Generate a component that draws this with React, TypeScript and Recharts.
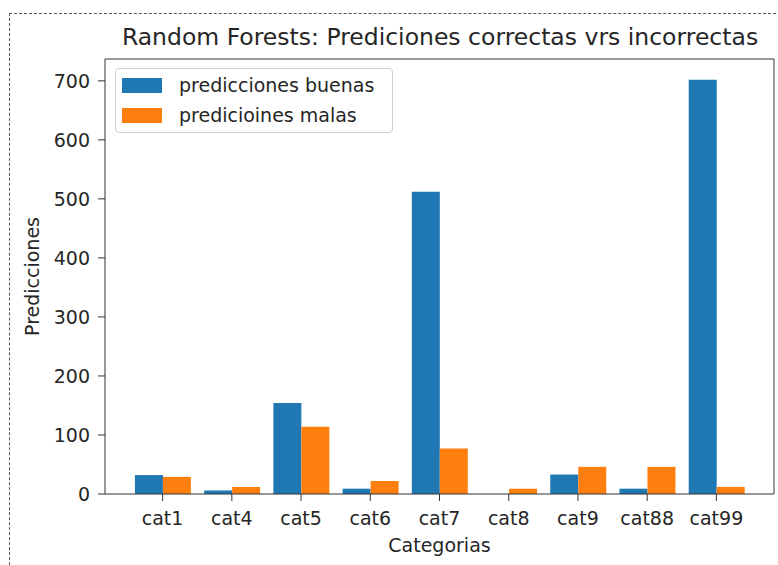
import { BarChart, Bar, XAxis, YAxis } from "recharts";

const categories = ["cat1", "cat4", "cat5", "cat6", "cat7", "cat8", "cat9", "cat88", "cat99"];
const buenas = [32, 6, 154, 9, 512, 0, 33, 9, 702];
const malas = [29, 12, 114, 22, 77, 9, 46, 46, 12];
const yTicks = [0, 100, 200, 300, 400, 500, 600, 700];
const seriesNames = ["predicciones buenas", "predicioines malas"];

const BLUE = "#1f77b4";
const ORANGE = "#ff7f0e";
const FONT = "'DejaVu Sans', sans-serif";
const TEXT = "#262626";
const FS = 19;

const data = categories.map((cat, i) => ({
  cat,
  buenas: buenas[i],
  malas: malas[i],
}));

function LegendBox() {
  const colors = [BLUE, ORANGE];
  return (
    <div
      style={{
        position: "absolute",
        left: 115,
        top: 68,
        width: 278,
        height: 65,
        border: "1px solid #d0d0d0",
        borderRadius: 4,
        background: "rgba(255,255,255,0.8)",
        boxSizing: "border-box",
        paddingTop: 1,
        fontFamily: FONT,
        fontSize: FS,
        color: TEXT,
      }}
    >
      {seriesNames.map((name, i) => (
        <div key={name} style={{ display: "flex", alignItems: "center", height: 30 }}>
          <div style={{ width: 40, height: 15, background: colors[i], marginLeft: 6, marginRight: 17 }} />
          <span style={{ lineHeight: "30px", whiteSpace: "nowrap" }}>{name}</span>
        </div>
      ))}
    </div>
  );
}

export default function App() {
  return (
    <div
      style={{
        position: "absolute",
        left: 0,
        top: 0,
        width: 778,
        height: 565,
        overflow: "hidden",
        background: "#fff",
      }}
    >
      <div
        style={{
          position: "absolute",
          left: 9,
          top: 13,
          width: 820,
          height: 620,
          border: "1px dashed #555",
        }}
      />
      <div
        style={{
          position: "absolute",
          left: 80,
          width: 720,
          top: 23,
          textAlign: "center",
          fontFamily: FONT,
          fontSize: 23.5,
          color: TEXT,
          whiteSpace: "nowrap",
        }}
      >
        Random Forests: Prediciones correctas vrs incorrectas
      </div>
      <div style={{ position: "absolute", left: 0, top: 0 }}>
        <BarChart
          width={778}
          height={565}
          data={data}
          margin={{ top: 58, right: 3, bottom: 41, left: 20 }}
          barCategoryGap="10%"
          barGap={0}
        >
          <XAxis
            dataKey="cat"
            padding={{ left: 23, right: 23 }}
            tickSize={7}
            tickMargin={11}
            height={30}
            interval={0}
            stroke="#333"
            tick={{ fill: TEXT, fontSize: FS, fontFamily: FONT }}
            tickLine={{ stroke: "#333" }}
            label={{
              value: "Categorias",
              position: "insideBottom",
              offset: -28,
              fill: TEXT,
              fontSize: FS,
              fontFamily: FONT,
            }}
          />
          <XAxis
            xAxisId="top"
            dataKey="cat"
            orientation="top"
            height={1}
            tick={false}
            tickLine={false}
            stroke="#333"
          />
          <YAxis
            domain={[0, 737]}
            ticks={yTicks}
            width={85}
            tickSize={7}
            tickMargin={8}
            stroke="#333"
            tick={{ fill: TEXT, fontSize: FS, fontFamily: FONT }}
            label={{
              value: "Predicciones",
              angle: -90,
              position: "center",
              dx: -30,
              fill: TEXT,
              fontSize: FS,
              fontFamily: FONT,
            }}
          />
          <YAxis
            yAxisId="right"
            orientation="right"
            width={1}
            tick={false}
            tickLine={false}
            stroke="#333"
            domain={[0, 737]}
          />
          <Bar dataKey="buenas" name={seriesNames[0]} fill={BLUE} isAnimationActive={false} />
          <Bar dataKey="malas" name={seriesNames[1]} fill={ORANGE} isAnimationActive={false} />
        </BarChart>
      </div>
      <LegendBox />
    </div>
  );
}
